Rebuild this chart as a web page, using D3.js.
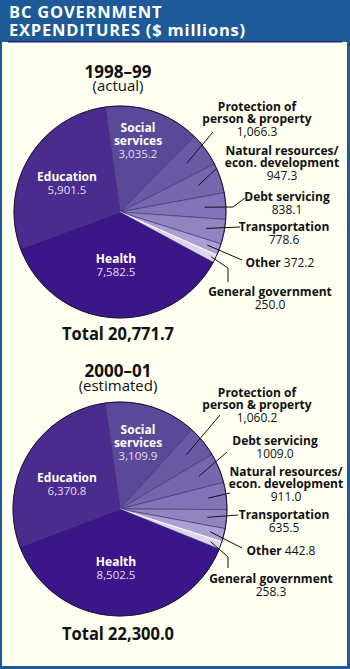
<!DOCTYPE html>
<html lang="en">
<head>
<meta charset="utf-8">
<title>BC Government Expenditures</title>
<script src="https://d3js.org/d3.v7.min.js"></script>
<style>
  body { margin: 0; background: #fff; }
  svg { display: block; font-family: "Open Sans", sans-serif; }
  .bold { font-weight: 700; }
</style>
</head>
<body>
<svg width="350" height="669"></svg>
<script>
// ---- data ----
const title = ["BC GOVERNMENT", "EXPENDITURES ($ millions)"];

const years = ["1998–99", "2000–01"];
const yearNotes = ["(actual)", "(estimated)"];
const totals = ["Total 20,771.7", "Total 22,300.0"];

const categories1998 = ["Social services", "Protection of person & property",
  "Natural resources/ econ. development", "Debt servicing", "Transportation",
  "Other", "General government", "Health", "Education"];
const values1998 = [3035.2, 1066.3, 947.3, 838.1, 778.6, 372.2, 250.0, 7582.5, 5901.5];
const valueText1998 = ["3,035.2", "1,066.3", "947.3", "838.1", "778.6", "372.2", "250.0", "7,582.5", "5,901.5"];

const categories2000 = ["Social services", "Protection of person & property",
  "Debt servicing", "Natural resources/ econ. development", "Transportation",
  "Other", "General government", "Health", "Education"];
const values2000 = [3109.9, 1060.2, 1009.0, 911.0, 635.5, 442.8, 258.3, 8502.5, 6370.8];
const valueText2000 = ["3,109.9", "1,060.2", "1009.0", "911.0", "635.5", "442.8", "258.3", "8,502.5", "6,370.8"];

// how each category name is broken into lines
const labelLines = {
  "Social services": ["Social", "services"],
  "Protection of person & property": ["Protection of", "person & property"],
  "Natural resources/ econ. development": ["Natural resources/", "econ. development"],
  "Debt servicing": ["Debt servicing"],
  "Transportation": ["Transportation"],
  "Other": ["Other"],
  "General government": ["General government"],
  "Health": ["Health"],
  "Education": ["Education"]
};

// slice colours by position
const colors = ["#5a4898", "#6a5aa6", "#7766ae", "#8474b7", "#9383c1", "#ab9ed2", "#dcd6ea", "#3b1689", "#4a2c8e"];

const W = 350, H = 669;
const svg = d3.select("svg");

// background + frame
svg.append("rect").attr("width", W).attr("height", H).attr("fill", "#1d5a97");
svg.append("rect").attr("x", 2).attr("y", 42).attr("width", W - 5).attr("height", H - 45).attr("fill", "#fffff2");
svg.append("rect").attr("x", 8).attr("y", 41).attr("width", W - 16).attr("height", 1.5).attr("fill", "#22226e");

svg.selectAll("text.title").data(title).enter().append("text")
  .attr("class", "title bold")
  .attr("x", 9).attr("y", (d, i) => 18 + i * 18)
  .attr("fill", "#fff").attr("font-size", 16.5)
  .attr("letter-spacing", 0.8)
  .text(d => d);

// layout for each chart (positions only)
const charts = [
  {
    cats: categories1998, vals: values1998, txt: valueText1998,
    cx: 120, cy: 212, r: 106, yearY: 78, noteY: 91, totalY: 340,
    inner: { 0: [138, 132], 7: [116, 263], 8: [67, 181] },
    outer: [
      { slot: 1, x: 257, y: 111, pts: [[213, 132]], f: 0.78 },
      { slot: 2, x: 282, y: 155, pts: [[217, 168]], f: 0.78 },
      { slot: 3, x: 287, y: 201, pts: [[245, 198], [233, 207]], f: 0.8 },
      { slot: 4, x: 284, y: 231, pts: [[240, 227]], f: 0.83 },
      { slot: 5, x: 280, y: 267, pts: [[242, 260]], f: 0.88 },
      { slot: 6, x: 270, y: 296, pts: [[228, 282], [228, 268]], f: 0.96 }
    ]
  },
  {
    cats: categories2000, vals: values2000, txt: valueText2000,
    cx: 120, cy: 509, r: 107, yearY: 377, noteY: 391, totalY: 640,
    inner: { 0: [138, 434], 7: [116, 566], 8: [67, 482] },
    outer: [
      { slot: 1, x: 257, y: 397, pts: [[220, 415]], f: 0.8 },
      { slot: 2, x: 275, y: 445, pts: [[227, 452]], f: 0.8 },
      { slot: 3, x: 286, y: 476, pts: [[230, 493]], f: 0.83 },
      { slot: 4, x: 284, y: 519, pts: [[238, 515]], f: 0.82 },
      { slot: 5, x: 281, y: 555, pts: [[242, 548]], f: 0.87 },
      { slot: 6, x: 271, y: 583, pts: [[228, 568], [228, 557]], f: 0.9 }
    ]
  }
];

const startA = -8 * Math.PI / 180;

charts.forEach((c, ci) => {
  const pie = d3.pie().sort(null).value(d => d)
    .startAngle(startA).endAngle(startA + 2 * Math.PI);
  const arcs = pie(c.vals);
  const arc = d3.arc().innerRadius(0).outerRadius(c.r);

  svg.append("text").attr("class", "bold")
    .attr("x", 118).attr("y", c.yearY).attr("text-anchor", "middle")
    .attr("font-size", 17).attr("fill", "#111").text(years[ci]);
  svg.append("text")
    .attr("x", 118).attr("y", c.noteY).attr("text-anchor", "middle")
    .attr("font-size", 15).attr("fill", "#111").text(yearNotes[ci]);
  svg.append("text").attr("class", "bold")
    .attr("x", 118).attr("y", c.totalY).attr("text-anchor", "middle")
    .attr("font-size", 17).attr("fill", "#111")
    .attr("textLength", 112).attr("lengthAdjust", "spacingAndGlyphs")
    .text(totals[ci]);

  const g = svg.append("g").attr("transform", `translate(${c.cx},${c.cy})`);
  g.selectAll("path.slice").data(arcs).enter().append("path")
    .attr("class", "slice")
    .attr("d", arc)
    .attr("fill", (d, i) => colors[i])
    .attr("stroke", (d, i) => i === 6 ? "#ffffff" : "#3a2a72")
    .attr("stroke-width", (d, i) => i === 6 ? 1.2 : 0.6);
  g.append("circle").attr("r", c.r).attr("fill", "none")
    .attr("stroke", "#1a1030").attr("stroke-width", 1);

  // inner labels
  Object.keys(c.inner).forEach(k => {
    const i = +k, [x, y] = c.inner[k];
    const lines = labelLines[c.cats[i]];
    const t = svg.append("text").attr("text-anchor", "middle");
    lines.forEach((ln, j) => {
      t.append("tspan").attr("class", "bold").attr("x", x).attr("y", y + j * 13)
        .attr("font-size", 12).attr("fill", "#fff").text(ln);
    });
    t.append("tspan").attr("x", x).attr("y", y + lines.length * 13)
      .attr("font-size", 11.5).attr("fill", "#e4def2").text(c.txt[i]);
  });

  // outer labels with leader lines
  c.outer.forEach(o => {
    const d = arcs[o.slot];
    const mid = (d.startAngle + d.endAngle) / 2;
    const inner = d3.arc().innerRadius(c.r * o.f).outerRadius(c.r * o.f)
      .startAngle(mid).endAngle(mid);
    const [px, py] = inner.centroid();
    const pts = o.pts.concat([[c.cx + px, c.cy + py]]);
    svg.append("path").attr("d", d3.line()(pts))
      .attr("fill", "none").attr("stroke", "#111").attr("stroke-width", 1);

    const name = c.cats[o.slot];
    const lines = labelLines[name];
    const t = svg.append("text").attr("text-anchor", "middle").attr("fill", "#111");
    if (name === "Other") {
      t.attr("x", o.x).attr("y", o.y);
      t.append("tspan").attr("class", "bold").attr("font-size", 12).text("Other ");
      t.append("tspan").attr("font-size", 12).text(c.txt[o.slot]);
    } else {
      lines.forEach((ln, j) => {
        t.append("tspan").attr("class", "bold").attr("x", o.x).attr("y", o.y + j * 12)
          .attr("font-size", 12).text(ln);
      });
      t.append("tspan").attr("x", o.x).attr("y", o.y + lines.length * 12 + 1)
        .attr("font-size", 12).text(c.txt[o.slot]);
    }
  });
});
</script>
</body>
</html>
